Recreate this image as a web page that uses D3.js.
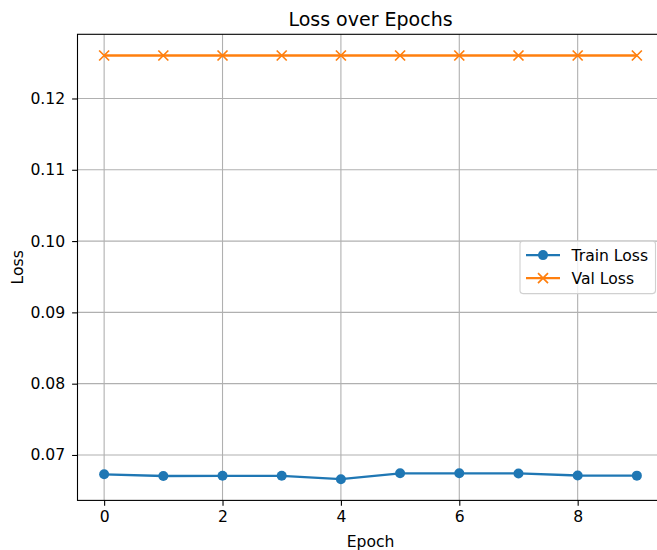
<!DOCTYPE html>
<html>
<head>
<meta charset="utf-8">
<script src="https://cdn.jsdelivr.net/npm/d3@7"></script>
<style>
  body { margin: 0; background: #fff; }
  svg { display: block; font-family: "DejaVu Sans", sans-serif; }
</style>
</head>
<body>
<div id="chart"></div>
<script>
// data
const epochs = [0, 1, 2, 3, 4, 5, 6, 7, 8, 9];
const trainLoss = [0.06729, 0.06705, 0.06708, 0.06708, 0.06660, 0.06743, 0.06743, 0.06741, 0.06712, 0.06710];
const valLoss = [0.12603, 0.12603, 0.12603, 0.12603, 0.12603, 0.12603, 0.12603, 0.12603, 0.12603, 0.12603];
const xTicks = [0, 2, 4, 6, 8];
const yTicks = [0.07, 0.08, 0.09, 0.10, 0.11, 0.12];
const seriesNames = ["Train Loss", "Val Loss"];
const seriesColors = ["#1f77b4", "#ff7f0e"];

const width = 657, height = 550;
const margin = { top: 34.3, right: -6.5, bottom: 49.6, left: 77.5 };
const w = width - margin.left - margin.right;
const h = height - margin.top - margin.bottom;
const fs = "15.6px";

const svg = d3.select("#chart").append("svg")
    .attr("width", width)
    .attr("height", height);

const g = svg.append("g")
    .attr("transform", `translate(${margin.left},${margin.top})`);

// matplotlib style 5% padding
const xExt = d3.extent(epochs);
const xPad = (xExt[1] - xExt[0]) * 0.05;
const allY = trainLoss.concat(valLoss);
const yExt = d3.extent(allY);
const yPad = (yExt[1] - yExt[0]) * 0.05;

const x = d3.scaleLinear().domain([xExt[0] - xPad, xExt[1] + xPad]).range([0, w]);
const y = d3.scaleLinear().domain([yExt[0] - yPad, yExt[1] + yPad]).range([h, 0]);

// grid
g.append("g").selectAll("line").data(xTicks).enter().append("line")
    .attr("x1", d => x(d)).attr("x2", d => x(d))
    .attr("y1", 0).attr("y2", h)
    .attr("stroke", "#b0b0b0").attr("stroke-width", 1.1);
g.append("g").selectAll("line").data(yTicks).enter().append("line")
    .attr("x1", 0).attr("x2", w)
    .attr("y1", d => y(d)).attr("y2", d => y(d))
    .attr("stroke", "#b0b0b0").attr("stroke-width", 1.1);

// axes
const xAxis = d3.axisBottom(x).tickValues(xTicks).tickSize(5.4).tickPadding(5.4).tickFormat(d3.format("d"));
const yAxis = d3.axisLeft(y).tickValues(yTicks).tickSize(5.4).tickPadding(7).tickFormat(d3.format(".2f"));

const gx = g.append("g").attr("transform", `translate(0,${h})`).call(xAxis);
const gy = g.append("g").call(yAxis);
[gx, gy].forEach(a => {
    a.select(".domain").remove();
    a.selectAll(".tick line").attr("stroke", "#000").attr("stroke-width", 1.1);
    a.selectAll(".tick text").attr("fill", "#000")
        .style("font-family", "DejaVu Sans").style("font-size", fs);
});

// lines
const line = d3.line().x((d, i) => x(epochs[i])).y(d => y(d));
const series = [trainLoss, valLoss];

series.forEach((s, k) => {
    g.append("path")
        .datum(s)
        .attr("fill", "none")
        .attr("stroke", seriesColors[k])
        .attr("stroke-width", 2.3)
        .attr("d", line);
});

// markers
g.append("g").selectAll("circle").data(trainLoss).enter().append("circle")
    .attr("cx", (d, i) => x(epochs[i]))
    .attr("cy", d => y(d))
    .attr("r", 5)
    .attr("fill", seriesColors[0]);

const xMark = (cx, cy, r) => `M${cx - r},${cy - r}L${cx + r},${cy + r}M${cx - r},${cy + r}L${cx + r},${cy - r}`;
g.append("g").selectAll("path").data(valLoss).enter().append("path")
    .attr("d", (d, i) => xMark(x(epochs[i]), y(d), 5))
    .attr("stroke", seriesColors[1])
    .attr("stroke-width", 1.7)
    .attr("fill", "none");

// spines
g.append("rect")
    .attr("x", 0).attr("y", 0).attr("width", w).attr("height", h)
    .attr("fill", "none").attr("stroke", "#000").attr("stroke-width", 1.1);

// legend
const legW = 135.5, legH = 52.5;
const legX = w - 8 - legW, legY = h / 2 - legH / 2;
const leg = g.append("g").attr("transform", `translate(${legX},${legY})`);
leg.append("rect")
    .attr("width", legW).attr("height", legH).attr("rx", 3)
    .attr("fill", "#fff").attr("fill-opacity", 0.8)
    .attr("stroke", "#d0d0d0").attr("stroke-width", 1.1);

seriesNames.forEach((name, k) => {
    const ly = 14 + k * 23;
    leg.append("line")
        .attr("x1", 6).attr("x2", 40).attr("y1", ly).attr("y2", ly)
        .attr("stroke", seriesColors[k]).attr("stroke-width", 2.3);
    if (k === 0) {
        leg.append("circle").attr("cx", 23).attr("cy", ly).attr("r", 5).attr("fill", seriesColors[k]);
    } else {
        leg.append("path").attr("d", xMark(23, ly, 5))
            .attr("stroke", seriesColors[k]).attr("stroke-width", 1.7);
    }
    leg.append("text")
        .attr("x", 51.5).attr("y", ly).attr("dy", "0.36em")
        .style("font-size", fs).attr("fill", "#000")
        .text(name);
});

// titles
svg.append("text")
    .attr("x", margin.left + w / 2).attr("y", 26)
    .attr("text-anchor", "middle")
    .style("font-size", "19px")
    .text("Loss over Epochs");

svg.append("text")
    .attr("x", margin.left + w / 2).attr("y", 547.3)
    .attr("text-anchor", "middle")
    .style("font-size", fs)
    .text("Epoch");

svg.append("text")
    .attr("transform", `translate(23.3,${margin.top + h / 2}) rotate(-90)`)
    .attr("text-anchor", "middle")
    .style("font-size", fs)
    .text("Loss");
</script>
</body>
</html>
